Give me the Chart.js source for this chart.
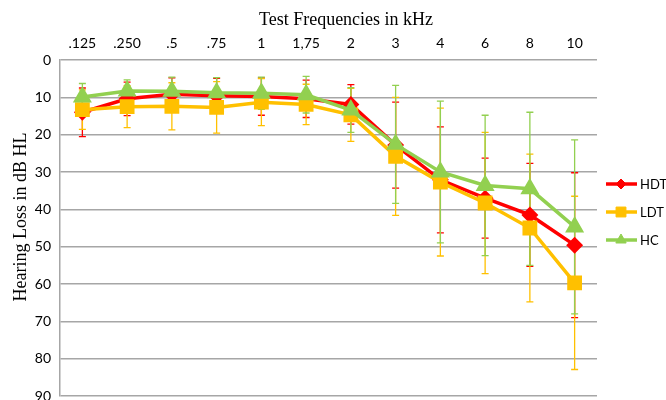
<!DOCTYPE html>
<html>
<head>
<meta charset="utf-8">
<script src="https://cdn.jsdelivr.net/npm/chart.js@4"></script>
<style>
  html, body { margin: 0; padding: 0; background: #fff; }
  #wrap { width: 666px; height: 400px; }
</style>
</head>
<body>
<div id="wrap"><canvas id="c" width="666" height="400"></canvas></div>
<script>
// Test frequencies (kHz)
const frequencies = ['.125', '.250', '.5', '.75', '1', '1,75', '2', '3', '4', '6', '8', '10'];

// Mean hearing loss (dB HL) per group
const hdtMean = [14.0, 10.4, 9.2, 9.6, 9.8, 10.4, 11.9, 22.8, 32.1, 37.0, 41.5, 49.6];
const ldtMean = [13.3, 12.5, 12.4, 12.7, 11.3, 11.9, 14.7, 25.8, 32.7, 38.3, 45.0, 59.7];
const hcMean  = [9.9, 8.3, 8.4, 8.8, 8.9, 9.3, 13.4, 22.6, 30.0, 33.6, 34.5, 44.7];

// Standard deviations (error bars)
const hdtSD = [6.5, 4.5, 4.4, 4.7, 5.0, 5.0, 5.3, 11.5, 14.2, 10.7, 13.8, 19.4];
const ldtSD = [5.3, 5.6, 6.3, 6.9, 6.3, 5.4, 7.1, 15.8, 19.8, 18.9, 19.8, 23.2];
const hcSD  = [3.6, 3.0, 3.8, 4.1, 4.3, 4.9, 6.0, 15.8, 19.0, 18.8, 20.5, 23.3];

// Y axis tick values
const yTicks = [0, 10, 20, 30, 40, 50, 60, 70, 80, 90];

const RED = '#ff0000', YELLOW = '#ffc000', GREEN = '#92d050';
const tickFont = { family: 'Lato, "Open Sans", sans-serif', size: 14 };

// Symmetric error bars, drawn underneath the lines and markers
const errorBars = {
  id: 'errorBars',
  beforeDatasetsDraw(chart) {
    const ctx = chart.ctx;
    const y = chart.scales.y;
    [0, 1, 2].forEach(di => {
      const ds = chart.data.datasets[di];
      const meta = chart.getDatasetMeta(di);
      ctx.save();
      ctx.strokeStyle = ds.borderColor;
      ctx.lineWidth = 1.3;
      ds.sd.forEach((s, i) => {
        const x = meta.data[i].x;
        const v = ds.data[i];
        const yTop = y.getPixelForValue(v - s);
        const yBot = y.getPixelForValue(v + s);
        ctx.beginPath();
        ctx.moveTo(x, yTop); ctx.lineTo(x, yBot);
        ctx.moveTo(x - 3.5, yTop); ctx.lineTo(x + 3.5, yTop);
        ctx.moveTo(x - 3.5, yBot); ctx.lineTo(x + 3.5, yBot);
        ctx.stroke();
      });
      ctx.restore();
    });
  }
};

// Axis titles and line/marker legend
const decorations = {
  id: 'decorations',
  afterDraw(chart) {
    const ctx = chart.ctx;
    ctx.save();
    ctx.fillStyle = '#000';
    ctx.font = '18px "Liberation Serif", "Times New Roman", serif';
    ctx.textAlign = 'center';
    ctx.textBaseline = 'middle';
    ctx.fillText('Test Frequencies in kHz', 346, 20);
    ctx.translate(21, 217);
    ctx.rotate(-Math.PI / 2);
    ctx.fillText('Hearing Loss in dB HL', 0, 0);
    ctx.restore();

    const rows = [[0, 184, 5], [1, 212, 7], [2, 240, 6]];
    rows.forEach(([di, yy, r]) => {
      const ds = chart.data.datasets[di];
      ctx.save();
      ctx.strokeStyle = ds.borderColor;
      ctx.fillStyle = ds.borderColor;
      ctx.lineWidth = 3.5;
      ctx.beginPath();
      ctx.moveTo(606, yy); ctx.lineTo(637, yy);
      ctx.stroke();
      ctx.lineWidth = 1;
      Chart.helpers.drawPoint(ctx, {
        pointStyle: ds.pointStyle, rotation: 0, radius: r, borderWidth: 1
      }, 621, yy);
      ctx.fillStyle = '#000';
      ctx.font = '13px Lato, "Open Sans", sans-serif';
      ctx.textAlign = 'left';
      ctx.textBaseline = 'middle';
      ctx.fillText(ds.label, 640, yy + 1);
      ctx.restore();
    });
  }
};

function series(label, data, sd, color, style, radius, order) {
  return {
    label, data, sd, order,
    borderColor: color, backgroundColor: color,
    pointBackgroundColor: color, pointBorderColor: color,
    borderWidth: 3.5, pointStyle: style, pointRadius: radius,
    pointHoverRadius: radius, tension: 0
  };
}

new Chart(document.getElementById('c'), {
  type: 'line',
  data: {
    labels: frequencies,
    datasets: [
      series('HDT', hdtMean, hdtSD, RED, 'rectRot', 6, 3),
      series('LDT', ldtMean, ldtSD, YELLOW, 'rect', 8, 2),
      series('HC', hcMean, hcSD, GREEN, 'triangle', 7.5, 1)
    ]
  },
  options: {
    responsive: false,
    animation: false,
    devicePixelRatio: 1,
    layout: { autoPadding: false, padding: { left: 0, right: 69, top: 0, bottom: 4 } },
    plugins: { legend: { display: false }, tooltip: { enabled: false } },
    scales: {
      x: {
        position: 'top',
        offset: true,
        grid: { display: false, drawTicks: false },
        border: { display: false },
        ticks: { font: tickFont, color: '#000', padding: 8, maxRotation: 0, autoSkip: false },
        afterFit(s) { s.height = 60; s.paddingLeft = 0; s.paddingRight = 0; }
      },
      y: {
        reverse: true,
        min: 0, max: 90,
        afterBuildTicks(s) { s.ticks = yTicks.map(v => ({ value: v })); },
        grid: { color: '#a6a6a6', lineWidth: 1.5, drawTicks: false },
        border: { display: true, color: '#a6a6a6', width: 1.5 },
        ticks: { font: tickFont, color: '#000', padding: 9 },
        afterFit(s) { s.width = 60; s.paddingTop = 0; s.paddingBottom = 0; }
      }
    }
  },
  plugins: [errorBars, decorations]
});
</script>
</body>
</html>
